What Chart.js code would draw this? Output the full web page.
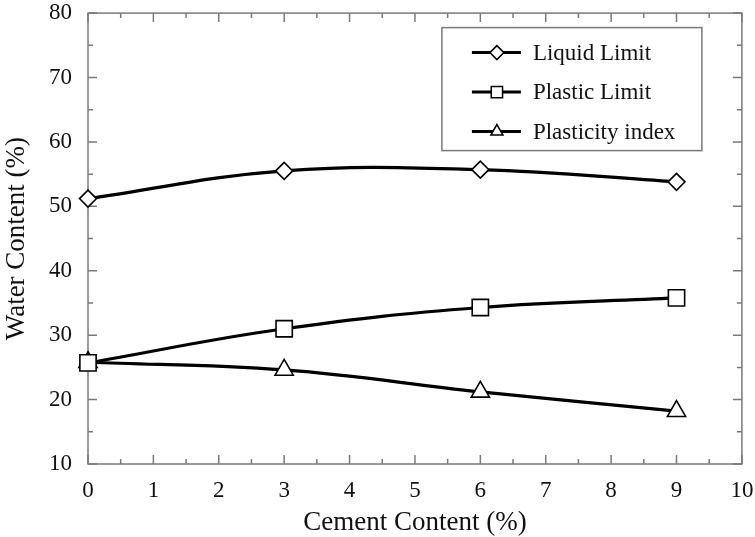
<!DOCTYPE html>
<html>
<head>
<meta charset="utf-8">
<script src="https://cdn.jsdelivr.net/npm/chart.js@4"></script>
<style>
  html, body { margin: 0; padding: 0; background: #fff; }
  #wrap { width: 755px; height: 537px; }
</style>
</head>
<body>
<div id="wrap"><canvas id="chart"></canvas></div>
<script>
const cementContent   = [0, 3, 6, 9];
const liquidLimit     = [51.2, 55.5, 55.7, 53.8];
const plasticLimit    = [25.7, 31.0, 34.3, 35.8];
const plasticityIndex = [25.8, 24.6, 21.2, 18.2];

const xMin = 0, xMax = 10, xStep = 1;
const yMin = 10, yMax = 80, yStep = 10;

const AXIS = '#7a7a7a';
const SERIF = '"Liberation Serif", "Times New Roman", serif';

Chart.defaults.font.family = SERIF;
Chart.defaults.color = '#111';

function toPoints(ys) {
  return cementContent.map((x, i) => ({ x, y: ys[i] }));
}

// box round the plot with inward ticks, majors and halves
const frameTicks = {
  id: 'frameTicks',
  beforeDatasetsDraw(chart) {
    const { ctx, chartArea: a, scales: { x, y } } = chart;
    ctx.save();
    ctx.strokeStyle = AXIS;
    ctx.lineWidth = 1.5;
    ctx.strokeRect(a.left, a.top, a.right - a.left, a.bottom - a.top);
    ctx.beginPath();
    for (let v = xMin; v <= xMax; v += xStep / 2) {
      const px = x.getPixelForValue(v);
      const len = v % xStep === 0 ? 9 : 5;
      ctx.moveTo(px, a.bottom); ctx.lineTo(px, a.bottom - len);
      ctx.moveTo(px, a.top);    ctx.lineTo(px, a.top + len);
    }
    for (let v = yMin; v <= yMax; v += yStep / 2) {
      const py = y.getPixelForValue(v);
      const len = v % yStep === 0 ? 9 : 5;
      ctx.moveTo(a.left, py);  ctx.lineTo(a.left + len, py);
      ctx.moveTo(a.right, py); ctx.lineTo(a.right - len, py);
    }
    ctx.stroke();
    ctx.restore();
  }
};

// legend drawn inside the plot, upper right
const boxLegend = {
  id: 'boxLegend',
  afterDraw(chart) {
    const { ctx, chartArea: a } = chart;
    const left = a.right - 300, top = a.top + 14.5, w = 260, h = 123;
    ctx.save();
    ctx.fillStyle = '#fff';
    ctx.fillRect(left, top, w, h);
    ctx.strokeStyle = AXIS;
    ctx.lineWidth = 1.5;
    ctx.strokeRect(left, top, w, h);
    chart.data.datasets.forEach((ds, i) => {
      const cy = top + 25 + i * 39.5;
      ctx.strokeStyle = '#000';
      ctx.lineWidth = 3;
      ctx.beginPath();
      ctx.moveTo(left + 30, cy);
      ctx.lineTo(left + 79, cy);
      ctx.stroke();
      ctx.fillStyle = '#fff';
      ctx.strokeStyle = '#000';
      ctx.lineWidth = 1.5;
      Chart.helpers.drawPoint(ctx, {
        pointStyle: ds.pointStyle,
        radius: ds.pointStyle === 'rect' ? 8 : 7,
        borderWidth: 1.5,
        rotation: 0
      }, left + 55, cy);
      ctx.fillStyle = '#111';
      ctx.font = '23px ' + SERIF;
      ctx.textAlign = 'left';
      ctx.textBaseline = 'middle';
      ctx.fillText(ds.label, left + 91, cy + 1);
    });
    ctx.restore();
  }
};

function series(label, data, style, radius) {
  return {
    label,
    data: toPoints(data),
    borderColor: '#000',
    borderWidth: 3.2,
    tension: 0.4,
    pointStyle: style,
    pointRadius: radius,
    pointHoverRadius: radius,
    pointBackgroundColor: '#fff',
    pointBorderColor: '#000',
    pointBorderWidth: 1.6,
    clip: false
  };
}

new Chart(document.getElementById('chart'), {
  type: 'line',
  data: {
    datasets: [
      series('Liquid Limit', liquidLimit, 'rectRot', 8.5),
      series('Plastic Limit', plasticLimit, 'rect', 11.5),
      series('Plasticity index', plasticityIndex, 'triangle', 10.5)
    ]
  },
  options: {
    responsive: true,
    maintainAspectRatio: false,
    animation: false,
    layout: { padding: { top: 13, right: 11, left: 0, bottom: 0 } },
    plugins: { legend: { display: false }, tooltip: { enabled: false } },
    scales: {
      x: {
        type: 'linear',
        min: xMin, max: xMax,
        ticks: { stepSize: xStep, padding: 13, font: { size: 23 }, color: '#111' },
        grid: { display: false, drawTicks: false },
        border: { display: false },
        title: { display: true, text: 'Cement Content (%)', font: { size: 27 }, color: '#111', padding: { top: 0, bottom: -2 } },
        afterFit(s) { s.height = 73; s.paddingLeft = 0; s.paddingRight = 0; }
      },
      y: {
        type: 'linear',
        min: yMin, max: yMax,
        ticks: { stepSize: yStep, padding: 16, font: { size: 23 }, color: '#111' },
        grid: { display: false, drawTicks: false },
        border: { display: false },
        title: { display: true, text: 'Water Content (%)', font: { size: 27 }, color: '#111', padding: { top: 1, bottom: 0 } },
        afterFit(s) { s.width = 88; s.paddingTop = 0; s.paddingBottom = 0; }
      }
    }
  },
  plugins: [frameTicks, boxLegend]
});
</script>
</body>
</html>
